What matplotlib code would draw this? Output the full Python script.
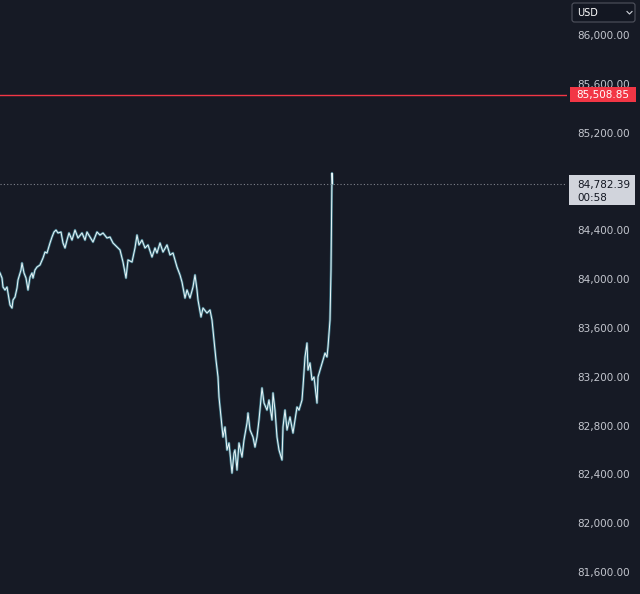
import matplotlib
matplotlib.use('Agg')
import matplotlib.pyplot as plt
import matplotlib.transforms as mtransforms
from matplotlib.patches import Rectangle, FancyBboxPatch
from matplotlib.lines import Line2D

# minute index (time axis) and price
minutes = [0, 2, 3, 5, 7, 8, 10, 12, 13, 15, 17, 18, 21, 22, 24, 26, 28, 30, 32, 33,
           35, 37, 40, 43, 45, 47, 50, 52, 54, 56, 58, 61, 63, 65, 67, 69, 72, 75, 78,
           82, 85, 87, 90, 93, 97, 100, 103, 107, 110, 113, 117, 120, 123, 126, 128,
           132, 135, 137, 139, 142, 145, 148, 152, 155, 157, 160, 163, 167, 170, 173,
           177, 180, 182, 185, 187, 190, 193, 195, 197, 198, 201, 203, 207, 210, 212,
           214, 216, 218, 219, 221, 223, 225, 227, 229, 232, 234, 235, 237, 239, 242,
           244, 247, 248, 250, 253, 255, 257, 259, 262, 264, 267, 269, 272, 273, 275,
           277, 279, 282, 283, 285, 287, 290, 293, 295, 297, 299, 302, 303, 305, 307,
           308, 310, 312, 314, 317, 318, 321, 323, 325, 327, 328, 330, 331, 332, 332.5]
prices = [84050, 84009, 83935, 83911, 83935, 83886, 83788, 83763, 83829, 83853, 83927,
          83993, 84075, 84132, 84050, 84009, 83911, 84017, 84050, 84009, 84075, 84099,
          84116, 84173, 84222, 84214, 84296, 84345, 84386, 84402, 84378, 84386, 84296,
          84255, 84320, 84378, 84320, 84402, 84337, 84378, 84320, 84386, 84345, 84304,
          84386, 84361, 84378, 84337, 84345, 84296, 84263, 84239, 84140, 84009, 84157,
          84140, 84255, 84361, 84280, 84320, 84255, 84280, 84181, 84255, 84214, 84296,
          84222, 84280, 84198, 84214, 84099, 84034, 83976, 83845, 83911, 83845, 83935,
          84034, 83911, 83829, 83690, 83763, 83722, 83747, 83665, 83501, 83337, 83198,
          83034, 82870, 82706, 82788, 82600, 82657, 82411, 82575, 82600, 82436, 82657,
          82542, 82682, 82821, 82903, 82764, 82706, 82624, 82706, 82846, 83108, 82985,
          82927, 83009, 82846, 83067, 82927, 82706, 82600, 82518, 82788, 82927, 82764,
          82870, 82739, 82846, 82952, 82927, 83009, 83116, 83362, 83476, 83255, 83313,
          83173, 83198, 82985, 83198, 83280, 83337, 83394, 83362, 83444, 83665, 84075,
          84869, 84782.39]

last_price = 84782.39
alert_price = 85508.85
countdown = '00:58'
currency = 'USD'
tick_prices = [81600, 82000, 82400, 82800, 83200, 83600, 84000, 84400, 85200, 85600, 86000]

bg = '#161a25'
W, H = 640, 594
y_lo, y_hi = 81420, 86287
unit = (y_hi - y_lo) / H  # price per pixel

fig = plt.figure(figsize=(6.4, 5.94), dpi=100, facecolor=bg)
ax = fig.add_axes([0, 0, 567 / W, 1])
ax.set_facecolor(bg)

ax.plot(minutes, prices, color='#5fbfd4', lw=1.8, alpha=0.55)
ax.plot(minutes, prices, color='#eaf7fa', lw=0.7)
ax.axhline(alert_price, color='#f23645', lw=1)
ax.axhline(last_price, color='#80838d', lw=0.8, ls=(0, (1, 2)))

ax.set_xlim(0, 567)
ax.set_ylim(y_lo, y_hi)
for s in ax.spines.values():
    s.set_visible(False)
ax.set_xticks([])
ax.yaxis.tick_right()
ax.set_yticks(tick_prices)
ax.set_yticklabels([f'{p:,.2f}' for p in tick_prices])
ax.tick_params(axis='y', length=0, pad=7.2, labelsize=7.5, labelcolor='#c3c6ce')

trans = mtransforms.blended_transform_factory(fig.transFigure, ax.transData)

# alert price label
ax.add_patch(Rectangle((570 / W, alert_price - 7.5 * unit), 66 / W, 15 * unit,
                       transform=trans, facecolor='#f23645', edgecolor='none',
                       clip_on=False, zorder=5))
ax.text(603 / W, alert_price, f'{alert_price:,.2f}', transform=trans, ha='center',
        va='center', color='white', fontsize=7.5, zorder=6, clip_on=False)

# last price label with countdown
ax.add_patch(Rectangle((569 / W, last_price - 21.5 * unit), 66 / W, 30 * unit,
                       transform=trans, facecolor='#d1d4dc', edgecolor='none',
                       clip_on=False, zorder=5))
ax.text(577 / W, last_price - 1.5 * unit, f'{last_price:,.2f}', transform=trans,
        ha='left', va='center', color='#131722', fontsize=7.5, zorder=6, clip_on=False)
ax.text(577 / W, last_price - 14.5 * unit, countdown, transform=trans,
        ha='left', va='center', color='#131722', fontsize=7.5, zorder=6, clip_on=False)

# currency selector
fig.add_artist(FancyBboxPatch((572 / W, 1 - 22 / H), 63 / W, 19 / H,
                              boxstyle='round,pad=0,rounding_size=0.004',
                              transform=fig.transFigure, facecolor='#131722',
                              edgecolor='#50535e', lw=0.8))
fig.text(577 / W, 1 - 12.5 / H, currency, color='white', fontsize=7, va='center',
         ha='left')
fig.add_artist(Line2D([627 / W, 629.5 / W, 632 / W],
                      [1 - 11.5 / H, 1 - 14 / H, 1 - 11.5 / H],
                      transform=fig.transFigure, color='#d1d4dc', lw=0.8))

fig.savefig('out.png', dpi=100, facecolor=bg)
